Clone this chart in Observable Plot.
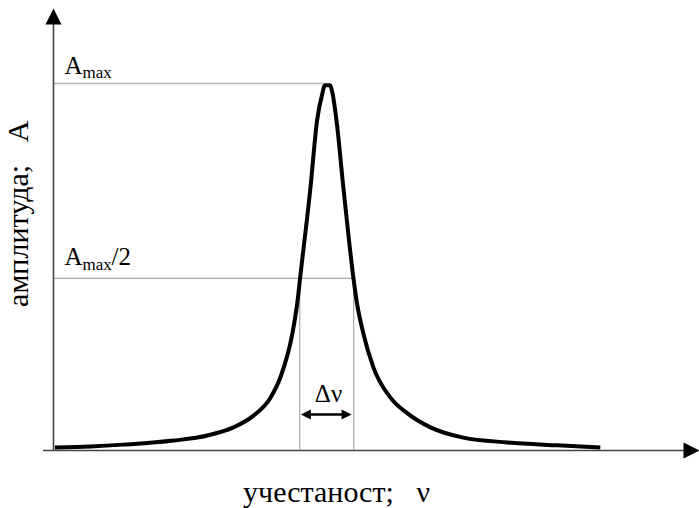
<!DOCTYPE html>
<html>
<head>
<meta charset="utf-8">
<script src="https://cdn.jsdelivr.net/npm/d3@7"></script>
<script src="https://cdn.jsdelivr.net/npm/@observablehq/plot@0.6"></script>
<style>
  html, body { margin: 0; padding: 0; background: #fff; }
  svg text, svg tspan { font-family: "Liberation Serif", "DejaVu Serif", "Times New Roman", Times, serif !important; }
</style>
</head>
<body>
<div id="chart"></div>
<script>
// Resonance curve (ν in units of the resonance frequency, A in units of Amax)
const nu  = [0.005, 0.135, 0.255, 0.438, 0.562, 0.657, 0.730, 0.792, 0.828, 0.872, 0.891, 0.900, 0.938, 0.962, 0.982, 0.990, 1.010, 1.018, 1.033, 1.058, 1.095, 1.106, 1.131, 1.168, 1.230, 1.292, 1.376, 1.496, 1.657, 1.839, 1.996];
const amp = [0.008, 0.011, 0.016, 0.027, 0.041, 0.063, 0.095, 0.144, 0.199, 0.319, 0.409, 0.469, 0.717, 0.899, 0.975, 0.995, 0.995, 0.975, 0.899, 0.717, 0.469, 0.409, 0.319, 0.226, 0.144, 0.101, 0.063, 0.035, 0.022, 0.014, 0.008];

// reference levels and width markers
const aMax = 1.0;
const aHalf = 0.469;
const halfWidthNu = [0.899, 1.096];
const arrowLevel = 0.098;

// axis extents
const xMin = -0.0365, xMax = 2.358;
const yMax = 1.2044;

// labels
const xLabel = "учестаност;\u00a0\u00a0\u00a0ν";
const yLabel = "амплитуда;\u00a0\u00a0\u00a0A";
const deltaLabel = "Δν";

const curve = nu.map((x, i) => ({x, y: amp[i]}));

// filled arrowhead symbol with its tip at the origin, pointing up
const arrowHead = {
  draw(context, size) {
    const r = Math.sqrt(size / Math.PI);
    context.moveTo(0, 0);
    context.lineTo(r, 2 * r);
    context.lineTo(-r, 2 * r);
    context.closePath();
  }
};

const serif = "'Liberation Serif', 'DejaVu Serif', serif";

const chart = Plot.plot({
  width: 699,
  height: 508,
  marginLeft: 53,
  marginRight: 0,
  marginTop: 8,
  marginBottom: 58,
  x: {domain: [0, xMax], axis: null},
  y: {domain: [0, yMax], axis: null},
  style: {background: "#fff", color: "#000"},
  marks: [
    // guide lines
    Plot.ruleY([aMax], {x1: 0, x2: 0.996, stroke: "#b5b5b5", strokeWidth: 1.5}),
    Plot.ruleY([aHalf], {x1: 0, x2: halfWidthNu[1], stroke: "#aaa", strokeWidth: 1.3}),
    Plot.ruleX(halfWidthNu, {y1: 0, y2: aHalf, stroke: "#999", strokeWidth: 1}),
    // axes
    Plot.ruleY([0], {x1: xMin, x2: xMax - 0.02, stroke: "#444", strokeWidth: 1.6}),
    Plot.ruleX([0], {y1: 0, y2: yMax - 0.02, stroke: "#444", strokeWidth: 1.6}),
    Plot.dot([{x: 0, y: yMax}], {x: "x", y: "y", symbol: arrowHead, r: 8, fill: "#000", stroke: null}),
    Plot.dot([{x: xMax, y: 0}], {x: "x", y: "y", symbol: arrowHead, r: 8, rotate: 90, fill: "#000", stroke: null}),
    // resonance curve
    Plot.line(curve, {x: "x", y: "y", curve: "monotone-x", stroke: "#000", strokeWidth: 4, strokeLinejoin: "round", strokeLinecap: "butt"}),
    // Δν double arrow
    Plot.ruleY([arrowLevel], {x1: halfWidthNu[0] + 0.02, x2: halfWidthNu[1] - 0.025, stroke: "#000", strokeWidth: 2.6}),
    Plot.dot([{x: halfWidthNu[0] + 0.004, y: arrowLevel}], {x: "x", y: "y", symbol: arrowHead, r: 5, rotate: -90, fill: "#000", stroke: null}),
    Plot.dot([{x: halfWidthNu[1] - 0.008, y: arrowLevel}], {x: "x", y: "y", symbol: arrowHead, r: 5, rotate: 90, fill: "#000", stroke: null}),
    Plot.text([deltaLabel], {x: 1.004, y: arrowLevel, dy: -13, lineAnchor: "bottom", textAnchor: "middle", fontSize: 25, fontFamily: serif, fill: "#000"}),
    // Amax labels
    Plot.text(["A"], {x: 0, y: aMax, dx: 11, dy: -10, lineAnchor: "bottom", textAnchor: "start", fontSize: 25, fontFamily: serif, fill: "#000"}),
    Plot.text(["max"], {x: 0, y: aMax, dx: 29, dy: -6, lineAnchor: "bottom", textAnchor: "start", fontSize: 17, fontFamily: serif, fill: "#000"}),
    Plot.text(["A"], {x: 0, y: aHalf, dx: 11, dy: -13, lineAnchor: "bottom", textAnchor: "start", fontSize: 25, fontFamily: serif, fill: "#000"}),
    Plot.text(["max"], {x: 0, y: aHalf, dx: 29, dy: -8, lineAnchor: "bottom", textAnchor: "start", fontSize: 17, fontFamily: serif, fill: "#000"}),
    Plot.text(["/2"], {x: 0, y: aHalf, dx: 58, dy: -13, lineAnchor: "bottom", textAnchor: "start", fontSize: 25, fontFamily: serif, fill: "#000"}),
    // axis titles
    Plot.text([xLabel], {x: 1.033, y: 0, dy: 51, lineAnchor: "bottom", textAnchor: "middle", fontSize: 30, fontFamily: serif, fill: "#000"}),
    Plot.text([yLabel], {x: 0, y: 0.645, dx: -26, rotate: -90, lineAnchor: "bottom", textAnchor: "middle", fontSize: 30, fontFamily: serif, fill: "#000"})
  ]
});

chart.setAttribute("font-family", serif);
chart.querySelectorAll("text, tspan, g").forEach(el => el.style.fontFamily = serif);
document.getElementById("chart").appendChild(chart);
</script>
</body>
</html>
